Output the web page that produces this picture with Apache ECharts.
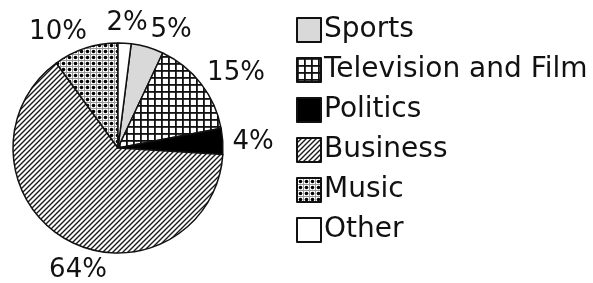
<!DOCTYPE html>
<html>
<head>
<meta charset="utf-8">
<script src="https://cdn.jsdelivr.net/npm/echarts@6/dist/echarts.min.js"></script>
<style>
  html, body { margin: 0; padding: 0; background: #fff; }
  #chart { width: 593px; height: 283px; }
</style>
</head>
<body>
<div id="chart"></div>
<script>
// data
var categories = ['Sports', 'Television and Film', 'Politics', 'Business', 'Music', 'Other'];
var shares = [5, 15, 4, 64, 10, 2];

// where each percentage label sits (centre of text)
var labelSpots = [[171, 30], [236, 73], [253, 142], [78, 270], [58, 32], [127, 23]];

// small canvas tiles used as fill patterns
function tile(size, draw) {
    var c = document.createElement('canvas');
    c.width = size; c.height = size;
    var ctx = c.getContext('2d');
    ctx.fillStyle = '#fff';
    ctx.fillRect(0, 0, size, size);
    draw(ctx, size);
    return { image: c, repeat: 'repeat' };
}

var gridFill = tile(7, function (ctx, s) {
    ctx.fillStyle = '#111';
    ctx.fillRect(0, 0, s, 1.8);
    ctx.fillRect(0, 0, 1.8, s);
});
var hatchFill = tile(5, function (ctx, s) {
    ctx.strokeStyle = '#1a1a1a';
    ctx.lineWidth = 1.4;
    ctx.beginPath();
    ctx.moveTo(-1, s + 1); ctx.lineTo(s + 1, -1);
    ctx.moveTo(-1, 1); ctx.lineTo(1, -1);
    ctx.moveTo(s - 1, s + 1); ctx.lineTo(s + 1, s - 1);
    ctx.stroke();
});
var dotFill = tile(6, function (ctx, s) {
    ctx.fillStyle = '#999';
    ctx.fillRect(0, 0, s, 1);
    ctx.fillRect(0, 0, 1, s);
    ctx.fillStyle = '#000';
    ctx.beginPath();
    ctx.arc(3.5, 3.5, 1.8, 0, Math.PI * 2);
    ctx.fill();
});

var fills = ['#d9d9d9', gridFill, '#000', hatchFill, dotFill, '#fff'];

var myChart = echarts.init(document.getElementById('chart'));

var option = {
    animation: false,
    textStyle: { fontFamily: 'DejaVu Sans' },
    legend: {
        orient: 'vertical',
        left: 291,
        top: 11,
        itemWidth: 24,
        itemHeight: 24,
        itemGap: 12,
        icon: 'rect',
        textStyle: { fontSize: 28, lineHeight: 28, color: '#111', padding: [0, 0, 0, -2] },
        data: categories
    },
    series: [
        {
            name: 'Share',
            type: 'pie',
            center: [118, 148],
            radius: [0, 105],
            startAngle: 90 - 7.2,
            clockwise: true,
            avoidLabelOverlap: false,
            itemStyle: { borderColor: '#111', borderWidth: 1.5 },
            label: {
                show: true,
                position: 'outside',
                formatter: '{c}%',
                fontSize: 26,
                color: '#111',
                overflow: 'none'
            },
            labelLine: { show: false },
            labelLayout: function (p) {
                var s = labelSpots[p.dataIndex];
                return { x: s[0], y: s[1], align: 'center', verticalAlign: 'middle' };
            },
            data: categories.map(function (name, i) {
                return { name: name, value: shares[i], itemStyle: { color: fills[i] } };
            })
        }
    ]
};

myChart.setOption(option);
</script>
</body>
</html>
